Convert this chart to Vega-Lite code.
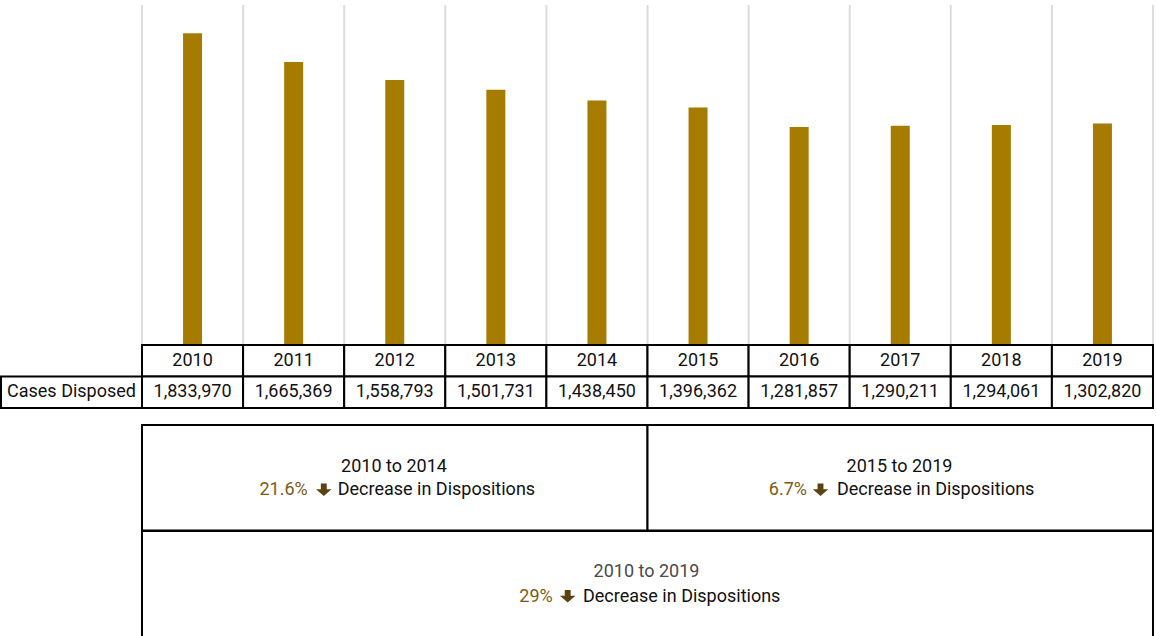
{
  "$schema": "https://vega.github.io/schema/vega-lite/v6.json",
  "padding": {"left": 0, "top": 4, "right": 0, "bottom": 0},
  "background": "white",
  "columns": 2,
  "spacing": 0,
  "bounds": "flush",
  "config": {
    "view": {"stroke": null},
    "font": "Roboto",
    "text": {"font": "Roboto", "fontSize": 18, "color": "#111111", "baseline": "middle"}
  },
  "datasets": {
    "cases": [
      {"year": "2010", "value": 1833970},
      {"year": "2011", "value": 1665369},
      {"year": "2012", "value": 1558793},
      {"year": "2013", "value": 1501731},
      {"year": "2014", "value": 1438450},
      {"year": "2015", "value": 1396362},
      {"year": "2016", "value": 1281857},
      {"year": "2017", "value": 1290211},
      {"year": "2018", "value": 1294061},
      {"year": "2019", "value": 1302820}
    ],
    "label": [{"label": "Cases Disposed"}],
    "boxes": [
      {"box": "a", "from": "2010", "to": "2014", "period": "2010 to 2014", "pct": "21.6%", "change": "Decrease in Dispositions"},
      {"box": "b", "from": "2015", "to": "2019", "period": "2015 to 2019", "pct": "6.7%", "change": "Decrease in Dispositions"},
      {"box": "c", "from": "2010", "to": "2019", "period": "2010 to 2019", "pct": "29%", "change": "Decrease in Dispositions"}
    ]
  },
  "concat": [
    {"width": 141, "height": 340, "data": {"values": [{}]}, "mark": {"type": "text", "text": ""}},
    {
      "width": 1011, "height": 340,
      "data": {"name": "cases"},
      "layer": [
        {
          "mark": {"type": "rule", "color": "#dcdcdc", "strokeWidth": 2},
          "encoding": {"x": {"field": "year", "type": "ordinal", "bandPosition": 0, "scale": {"type": "band", "domain": ["2010","2011","2012","2013","2014","2015","2016","2017","2018","2019"], "paddingInner": 0, "paddingOuter": 0}, "axis": null}}
        },
        {
          "transform": [{"filter": "datum.year == '2019'"}],
          "mark": {"type": "rule", "color": "#dcdcdc", "strokeWidth": 2},
          "encoding": {"x": {"field": "year", "type": "ordinal", "bandPosition": 1, "scale": {"type": "band", "domain": ["2010","2011","2012","2013","2014","2015","2016","2017","2018","2019"], "paddingInner": 0, "paddingOuter": 0}, "axis": null}}
        },
        {
          "mark": {"type": "bar", "width": 19, "color": "#A67C00"},
          "encoding": {
            "x": {"field": "year", "type": "ordinal", "scale": {"type": "band", "domain": ["2010","2011","2012","2013","2014","2015","2016","2017","2018","2019"], "paddingInner": 0, "paddingOuter": 0}, "axis": null},
            "y": {"field": "value", "type": "quantitative", "scale": {"domain": [0, 2000000], "nice": false}, "axis": null}
          }
        }
      ]
    },
    {
      "width": 141, "height": 63,
      "data": {"name": "label"},
      "layer": [
        {
          "mark": {"type": "rect", "fill": "white", "stroke": "black", "strokeWidth": 2},
          "encoding": {"y": {"datum": "Cases", "type": "nominal", "scale": {"type": "band", "domain": ["Year", "Cases"], "paddingInner": 0, "paddingOuter": 0}, "axis": null}}
        },
        {
          "mark": {"type": "text"},
          "encoding": {
            "y": {"datum": "Cases", "type": "nominal", "scale": {"type": "band", "domain": ["Year", "Cases"], "paddingInner": 0, "paddingOuter": 0}, "axis": null},
            "text": {"field": "label"}
          }
        }
      ]
    },
    {
      "width": 1011, "height": 63,
      "data": {"name": "cases"},
      "encoding": {
        "x": {"field": "year", "type": "ordinal", "scale": {"type": "band", "domain": ["2010","2011","2012","2013","2014","2015","2016","2017","2018","2019"], "paddingInner": 0, "paddingOuter": 0}, "axis": null}
      },
      "layer": [
        {
          "mark": {"type": "rect", "fill": "white", "stroke": "black", "strokeWidth": 2},
          "encoding": {"y": {"datum": "Year", "type": "nominal", "scale": {"type": "band", "domain": ["Year", "Cases"], "paddingInner": 0, "paddingOuter": 0}, "axis": null}}
        },
        {
          "mark": {"type": "rect", "fill": "white", "stroke": "black", "strokeWidth": 2},
          "encoding": {"y": {"datum": "Cases", "type": "nominal", "scale": {"type": "band", "domain": ["Year", "Cases"], "paddingInner": 0, "paddingOuter": 0}, "axis": null}}
        },
        {
          "mark": {"type": "text"},
          "encoding": {
            "y": {"datum": "Year", "type": "nominal", "scale": {"type": "band", "domain": ["Year", "Cases"], "paddingInner": 0, "paddingOuter": 0}, "axis": null},
            "text": {"field": "year"}
          }
        },
        {
          "mark": {"type": "text"},
          "encoding": {
            "y": {"datum": "Cases", "type": "nominal", "scale": {"type": "band", "domain": ["Year", "Cases"], "paddingInner": 0, "paddingOuter": 0}, "axis": null},
            "text": {"field": "value", "type": "quantitative", "format": ","}
          }
        }
      ]
    },
    {"width": 141, "height": 17, "data": {"values": [{}]}, "mark": {"type": "text", "text": ""}},
    {"width": 1011, "height": 17, "data": {"values": [{}]}, "mark": {"type": "text", "text": ""}},
    {"width": 141, "height": 105.5, "data": {"values": [{}]}, "mark": {"type": "text", "text": ""}},
    {
      "width": 1011, "height": 105.5,
      "data": {"name": "boxes"},
      "transform": [{"filter": "datum.box != 'c'"}],
      "encoding": {
        "x": {"field": "from", "type": "ordinal", "bandPosition": 0, "scale": {"type": "band", "domain": ["2010","2011","2012","2013","2014","2015","2016","2017","2018","2019"], "paddingInner": 0, "paddingOuter": 0}, "axis": null}
      },
      "layer": [
        {
          "mark": {"type": "rect", "fill": "white", "stroke": "black", "strokeWidth": 2},
          "encoding": {"x2": {"field": "to", "bandPosition": 1}}
        },
        {
          "mark": {"type": "text", "align": "center", "dx": 252, "dy": -11},
          "encoding": {"text": {"field": "period"}}
        },
        {
          "transform": [{"filter": "datum.box == 'a'"}],
          "layer": [
            {"mark": {"type": "text", "align": "right", "dx": 165.7, "dy": 12.5, "color": "#7B5B14"}, "encoding": {"text": {"field": "pct"}}},
            {"mark": {"type": "point", "shape": "M-0.38,-0.8L0.38,-0.8L0.38,-0.05L1,-0.05L0,0.8L-1,-0.05L-0.38,-0.05Z", "size": 240, "filled": true, "opacity": 1, "color": "#5A4310", "xOffset": 181.8, "yOffset": 12}},
            {"mark": {"type": "text", "align": "left", "dx": 195.7, "dy": 12.5}, "encoding": {"text": {"field": "change"}}}
          ]
        },
        {
          "transform": [{"filter": "datum.box == 'b'"}],
          "layer": [
            {"mark": {"type": "text", "align": "right", "dx": 159.5, "dy": 12.5, "color": "#7B5B14"}, "encoding": {"text": {"field": "pct"}}},
            {"mark": {"type": "point", "shape": "M-0.38,-0.8L0.38,-0.8L0.38,-0.05L1,-0.05L0,0.8L-1,-0.05L-0.38,-0.05Z", "size": 240, "filled": true, "opacity": 1, "color": "#5A4310", "xOffset": 173, "yOffset": 12}},
            {"mark": {"type": "text", "align": "left", "dx": 189.5, "dy": 12.5}, "encoding": {"text": {"field": "change"}}}
          ]
        }
      ]
    },
    {"width": 141, "height": 107.5, "data": {"values": [{}]}, "mark": {"type": "text", "text": ""}},
    {
      "width": 1011, "height": 107.5,
      "data": {"name": "boxes"},
      "transform": [{"filter": "datum.box == 'c'"}],
      "encoding": {
        "x": {"field": "from", "type": "ordinal", "bandPosition": 0, "scale": {"type": "band", "domain": ["2010","2011","2012","2013","2014","2015","2016","2017","2018","2019"], "paddingInner": 0, "paddingOuter": 0}, "axis": null}
      },
      "layer": [
        {
          "mark": {"type": "rect", "fill": "white", "stroke": "black", "strokeWidth": 2},
          "encoding": {"x2": {"field": "to", "bandPosition": 1}}
        },
        {
          "mark": {"type": "text", "align": "center", "dx": 504.5, "dy": -13, "color": "#4A4A4A"},
          "encoding": {"text": {"field": "period"}}
        },
        {"mark": {"type": "text", "align": "right", "dx": 410.7, "dy": 12, "color": "#7B5B14"}, "encoding": {"text": {"field": "pct"}}},
        {"mark": {"type": "point", "shape": "M-0.38,-0.8L0.38,-0.8L0.38,-0.05L1,-0.05L0,0.8L-1,-0.05L-0.38,-0.05Z", "size": 240, "filled": true, "opacity": 1, "color": "#5A4310", "xOffset": 425.7, "yOffset": 11.5}},
        {"mark": {"type": "text", "align": "left", "dx": 441, "dy": 12}, "encoding": {"text": {"field": "change"}}}
      ]
    }
  ]
}
